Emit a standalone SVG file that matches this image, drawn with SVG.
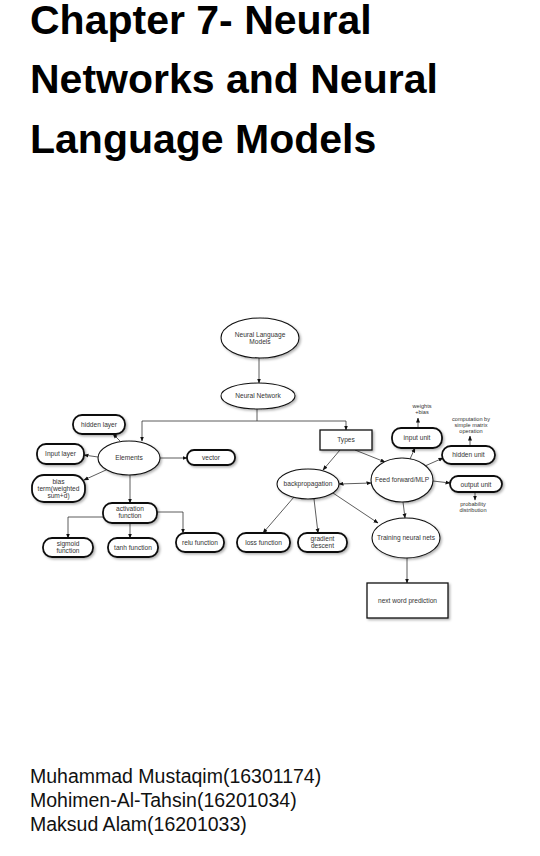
<svg xmlns="http://www.w3.org/2000/svg" width="540" height="856" viewBox="0 0 540 856">
<style>
.title{font-family:"Liberation Sans",Arial,sans-serif;font-weight:bold;font-size:41px;fill:#000}
.author{font-family:"Liberation Sans",Arial,sans-serif;font-size:19.5px;fill:#111}
.lbl{font-family:"Liberation Sans",Arial,sans-serif;font-size:6.6px;fill:#333;text-anchor:middle}
.ann{font-family:"Liberation Sans",Arial,sans-serif;font-size:5.6px;fill:#333;text-anchor:middle}
.ell{fill:#fff;stroke:#111;stroke-width:1.1;filter:url(#sh)}
.pill{fill:#fff;stroke:#111;stroke-width:1.8;filter:url(#sh)}
.box{fill:#fff;stroke:#111;stroke-width:1.3;filter:url(#sh)}
.con{fill:none;stroke:#333;stroke-width:0.8}
</style>
<defs>
<filter id="sh" x="-20%" y="-20%" width="150%" height="160%">
<feDropShadow dx="1.5" dy="1.5" stdDeviation="1.2" flood-color="#000" flood-opacity="0.3"/>
</filter>
<marker id="ar" viewBox="0 0 10 10" refX="9" refY="5" markerWidth="5" markerHeight="5" orient="auto-start-reverse" markerUnits="userSpaceOnUse">
<path d="M0,1 L10,5 L0,9 z" fill="#111"/>
</marker>
</defs>
<rect width="540" height="856" fill="#fff"/>
<g id="title">
<text class="title" x="30" y="33.5">Chapter 7- Neural</text>
<text class="title" x="30" y="93">Networks and Neural</text>
<text class="title" x="30" y="153">Language Models</text>
</g>
<g id="authors">
<text class="author" x="30" y="783">Muhammad Mustaqim(16301174)</text>
<text class="author" x="30" y="807">Mohimen-Al-Tahsin(16201034)</text>
<text class="author" x="30" y="831">Maksud Alam(16201033)</text>
</g>
<g id="connectors">
<path class="con" d="M259,358 V383" marker-end="url(#ar)"/>
<path class="con" d="M257,409 V421 H142 V441" marker-end="url(#ar)"/>
<path class="con" d="M257,421 H346 V430" marker-end="url(#ar)"/>
<path class="con" d="M120,441 L113,434" marker-end="url(#ar)"/>
<path class="con" d="M98,457 L84,455" marker-end="url(#ar)"/>
<path class="con" d="M106,470 L84,480" marker-end="url(#ar)"/>
<path class="con" d="M160,458 L187,458" marker-end="url(#ar)"/>
<path class="con" d="M130,475 V503" marker-end="url(#ar)"/>
<path class="con" d="M103,517 H68 V538" marker-end="url(#ar)"/>
<path class="con" d="M130,523 V538" marker-end="url(#ar)"/>
<path class="con" d="M157,512 H183 V533" marker-end="url(#ar)"/>
<path class="con" d="M340,450 L323,470" marker-end="url(#ar)"/>
<path class="con" d="M355,450 L385,462" marker-end="url(#ar)"/>
<path class="con" d="M339,484 L371,483" marker-start="url(#ar)" marker-end="url(#ar)"/>
<path class="con" d="M294,497 L263,533" marker-end="url(#ar)"/>
<path class="con" d="M314,499 L318,533" marker-end="url(#ar)"/>
<path class="con" d="M333,493 L378,523" marker-end="url(#ar)"/>
<path class="con" d="M410,459 L415,448" marker-end="url(#ar)"/>
<path class="con" d="M425,466 L443,458" marker-end="url(#ar)"/>
<path class="con" d="M433,481 L450,483" marker-end="url(#ar)"/>
<path class="con" d="M403,502 L405,518" marker-end="url(#ar)"/>
<path class="con" d="M418,428 V418" marker-end="url(#ar)"/>
<path class="con" d="M470,446 V436" marker-end="url(#ar)"/>
<path class="con" d="M475,492 V500" marker-end="url(#ar)"/>
<path class="con" d="M407,558 V583" marker-end="url(#ar)"/>
</g>
<g id="nlm"><ellipse class="ell" cx="260" cy="338" rx="39" ry="20"/><text class="lbl" x="260" y="337">Neural Language</text><text class="lbl" x="260" y="344">Models</text></g>
<g id="nn"><ellipse class="ell" cx="258" cy="396" rx="37" ry="13"/><text class="lbl" x="258" y="398">Neural Network</text></g>
<g id="elements"><ellipse class="ell" cx="129" cy="458" rx="31" ry="17"/><text class="lbl" x="129" y="460">Elements</text></g>
<g id="hidden_layer"><rect class="pill" x="73" y="415" width="52" height="19" rx="9"/><text class="lbl" x="99" y="426.5">hidden layer</text></g>
<g id="input_layer"><rect class="pill" x="37" y="444" width="47" height="20" rx="9"/><text class="lbl" x="60.5" y="456">Input layer</text></g>
<g id="bias"><rect class="pill" x="32" y="475" width="53" height="27" rx="12"/><text class="lbl" x="58.5" y="483.5">bias</text><text class="lbl" x="58.5" y="490.5">term(weighted</text><text class="lbl" x="58.5" y="497.5">sum+d)</text></g>
<g id="vector"><rect class="pill" x="187" y="450" width="48" height="15" rx="7"/><text class="lbl" x="211" y="459.5">vector</text></g>
<g id="activation"><rect class="pill" x="103" y="503" width="54" height="20" rx="9"/><text class="lbl" x="130" y="511">activation</text><text class="lbl" x="130" y="518">function</text></g>
<g id="sigmoid"><rect class="pill" x="43" y="538" width="50" height="19" rx="9"/><text class="lbl" x="68" y="546">sigmoid</text><text class="lbl" x="68" y="552.5">function</text></g>
<g id="tanh"><rect class="pill" x="108" y="538" width="50" height="19" rx="9"/><text class="lbl" x="133" y="549.5">tanh function</text></g>
<g id="relu"><rect class="pill" x="176" y="533" width="48" height="19" rx="9"/><text class="lbl" x="200" y="544.5">relu function</text></g>
<g id="loss"><rect class="pill" x="237" y="533" width="53" height="19" rx="9"/><text class="lbl" x="263.5" y="544.5">loss function</text></g>
<g id="gradient"><rect class="pill" x="298" y="533" width="49" height="19" rx="9"/><text class="lbl" x="322.5" y="541">gradient</text><text class="lbl" x="322.5" y="547.5">descent</text></g>
<g id="types"><rect class="box" x="320" y="430" width="52" height="20"/><text class="lbl" x="346" y="442">Types</text></g>
<g id="backprop"><ellipse class="ell" cx="308" cy="484" rx="31" ry="15"/><text class="lbl" x="308" y="486">backpropagation</text></g>
<g id="ff"><ellipse class="ell" cx="402" cy="480" rx="31" ry="22"/><text class="lbl" x="402" y="482">Feed forward/MLP</text></g>
<g id="input_unit"><rect class="pill" x="392" y="428" width="50" height="20" rx="9"/><text class="lbl" x="417" y="440">input unit</text></g>
<g id="hidden_unit"><rect class="pill" x="442" y="446" width="53" height="18" rx="9"/><text class="lbl" x="468.5" y="457">hidden unit</text></g>
<g id="output_unit"><rect class="pill" x="450" y="476" width="52" height="16" rx="8"/><text class="lbl" x="476" y="486.5">output unit</text></g>
<g id="training"><ellipse class="ell" cx="406" cy="538" rx="34" ry="20"/><text class="lbl" x="406" y="540">Training neural nets</text></g>
<g id="nwp"><rect class="box" x="367" y="583" width="81" height="35"/><text class="lbl" x="407.5" y="603">next word prediction</text></g>
<g id="weights"><text class="ann" x="422" y="408">weights</text><text class="ann" x="422" y="414">+bias</text></g>
<g id="computation"><text class="ann" x="471" y="421">computation by</text><text class="ann" x="471" y="427">simple matrix</text><text class="ann" x="471" y="433">operation</text></g>
<g id="probability"><text class="ann" x="473" y="505.5">probability</text><text class="ann" x="473" y="511.5">distribution</text></g>
</svg>
